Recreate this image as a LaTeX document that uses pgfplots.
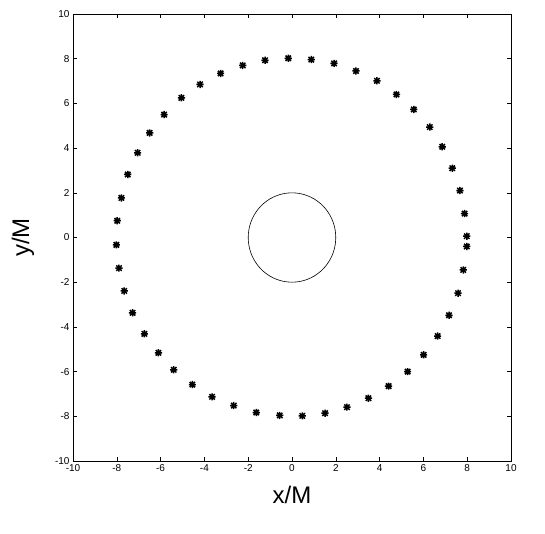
\documentclass[border=0pt]{standalone}
\usepackage{pgfplots}
\pgfplotsset{compat=1.18}
\usepackage{fontspec}
\setmainfont{Liberation Sans}

% MATLAB-style '*' marker: a plus and a cross on top of each other
\pgfdeclareplotmark{mstar}{%
  \pgfpathmoveto{\pgfqpoint{-\pgfplotmarksize}{0pt}}%
  \pgfpathlineto{\pgfqpoint{\pgfplotmarksize}{0pt}}%
  \pgfpathmoveto{\pgfqpoint{0pt}{-\pgfplotmarksize}}%
  \pgfpathlineto{\pgfqpoint{0pt}{\pgfplotmarksize}}%
  \pgfpathmoveto{\pgfqpoint{-0.75\pgfplotmarksize}{-0.75\pgfplotmarksize}}%
  \pgfpathlineto{\pgfqpoint{0.75\pgfplotmarksize}{0.75\pgfplotmarksize}}%
  \pgfpathmoveto{\pgfqpoint{-0.75\pgfplotmarksize}{0.75\pgfplotmarksize}}%
  \pgfpathlineto{\pgfqpoint{0.75\pgfplotmarksize}{-0.75\pgfplotmarksize}}%
  \pgfusepathqstroke}

\pgfplotstableread{
x y
-0.17 8.02
0.88 7.96
1.92 7.79
2.92 7.45
3.88 7.01
4.77 6.40
5.56 5.73
6.29 4.94
6.86 4.06
7.32 3.10
7.67 2.10
7.88 1.07
7.98 0.06
7.98 -0.40
7.82 -1.45
7.58 -2.49
7.17 -3.48
6.65 -4.41
6.01 -5.25
5.28 -6.00
4.41 -6.65
3.49 -7.19
2.51 -7.59
1.51 -7.86
0.47 -7.98
-0.56 -7.96
-1.63 -7.83
-2.66 -7.52
-3.65 -7.13
-4.55 -6.58
-5.40 -5.92
-6.10 -5.16
-6.74 -4.31
-7.28 -3.37
-7.66 -2.39
-7.90 -1.37
-8.02 -0.33
-7.98 0.75
-7.79 1.77
-7.50 2.82
-7.05 3.79
-6.50 4.68
-5.84 5.50
-5.05 6.25
-4.20 6.85
-3.26 7.34
-2.25 7.70
-1.23 7.93
}\orbit

\pgfplotstableread{
x y
2.0000 0.0000
1.9696 0.3473
1.8794 0.6840
1.7321 1.0000
1.5321 1.2856
1.2856 1.5321
1.0000 1.7321
0.6840 1.8794
0.3473 1.9696
0.0000 2.0000
-0.3473 1.9696
-0.6840 1.8794
-1.0000 1.7321
-1.2856 1.5321
-1.5321 1.2856
-1.7321 1.0000
-1.8794 0.6840
-1.9696 0.3473
-2.0000 0.0000
-1.9696 -0.3473
-1.8794 -0.6840
-1.7321 -1.0000
-1.5321 -1.2856
-1.2856 -1.5321
-1.0000 -1.7321
-0.6840 -1.8794
-0.3473 -1.9696
0.0000 -2.0000
0.3473 -1.9696
0.6840 -1.8794
1.0000 -1.7321
1.2856 -1.5321
1.5321 -1.2856
1.7321 -1.0000
1.8794 -0.6840
1.9696 -0.3473
2.0000 0.0000
}\horizon

\begin{document}
\begin{tikzpicture}
  \useasboundingbox (-73pt,-72pt) rectangle (472pt,461pt);
  \begin{axis}[
    at={(0,0)}, anchor=south west,
    scale only axis,
    width=438pt, height=447pt,
    xmin=-10, xmax=10, ymin=-10, ymax=10,
    xtick={-10,-8,...,10}, ytick={-10,-8,...,10},
    tick align=inside,
    major tick length=4pt,
    tick style={black, line width=0.5pt},
    axis line style={line width=0.8pt},
    ticklabel style={font=\fontsize{10}{11}\selectfont},
    /pgf/number format/assume math mode=true,
    xlabel={x/M}, ylabel={y/M},
    label style={font=\fontsize{24}{26}\selectfont},
    xlabel style={yshift=-8pt},
    ylabel style={yshift=14pt},
  ]
    \addplot[black, line width=0.6pt, smooth] table[x=x, y=y] {\horizon};
    \addplot[only marks, mark=mstar, mark size=3.6pt,
      mark options={line width=1.5pt, black}] table[x=x, y=y] {\orbit};
  \end{axis}
\end{tikzpicture}
\end{document}
